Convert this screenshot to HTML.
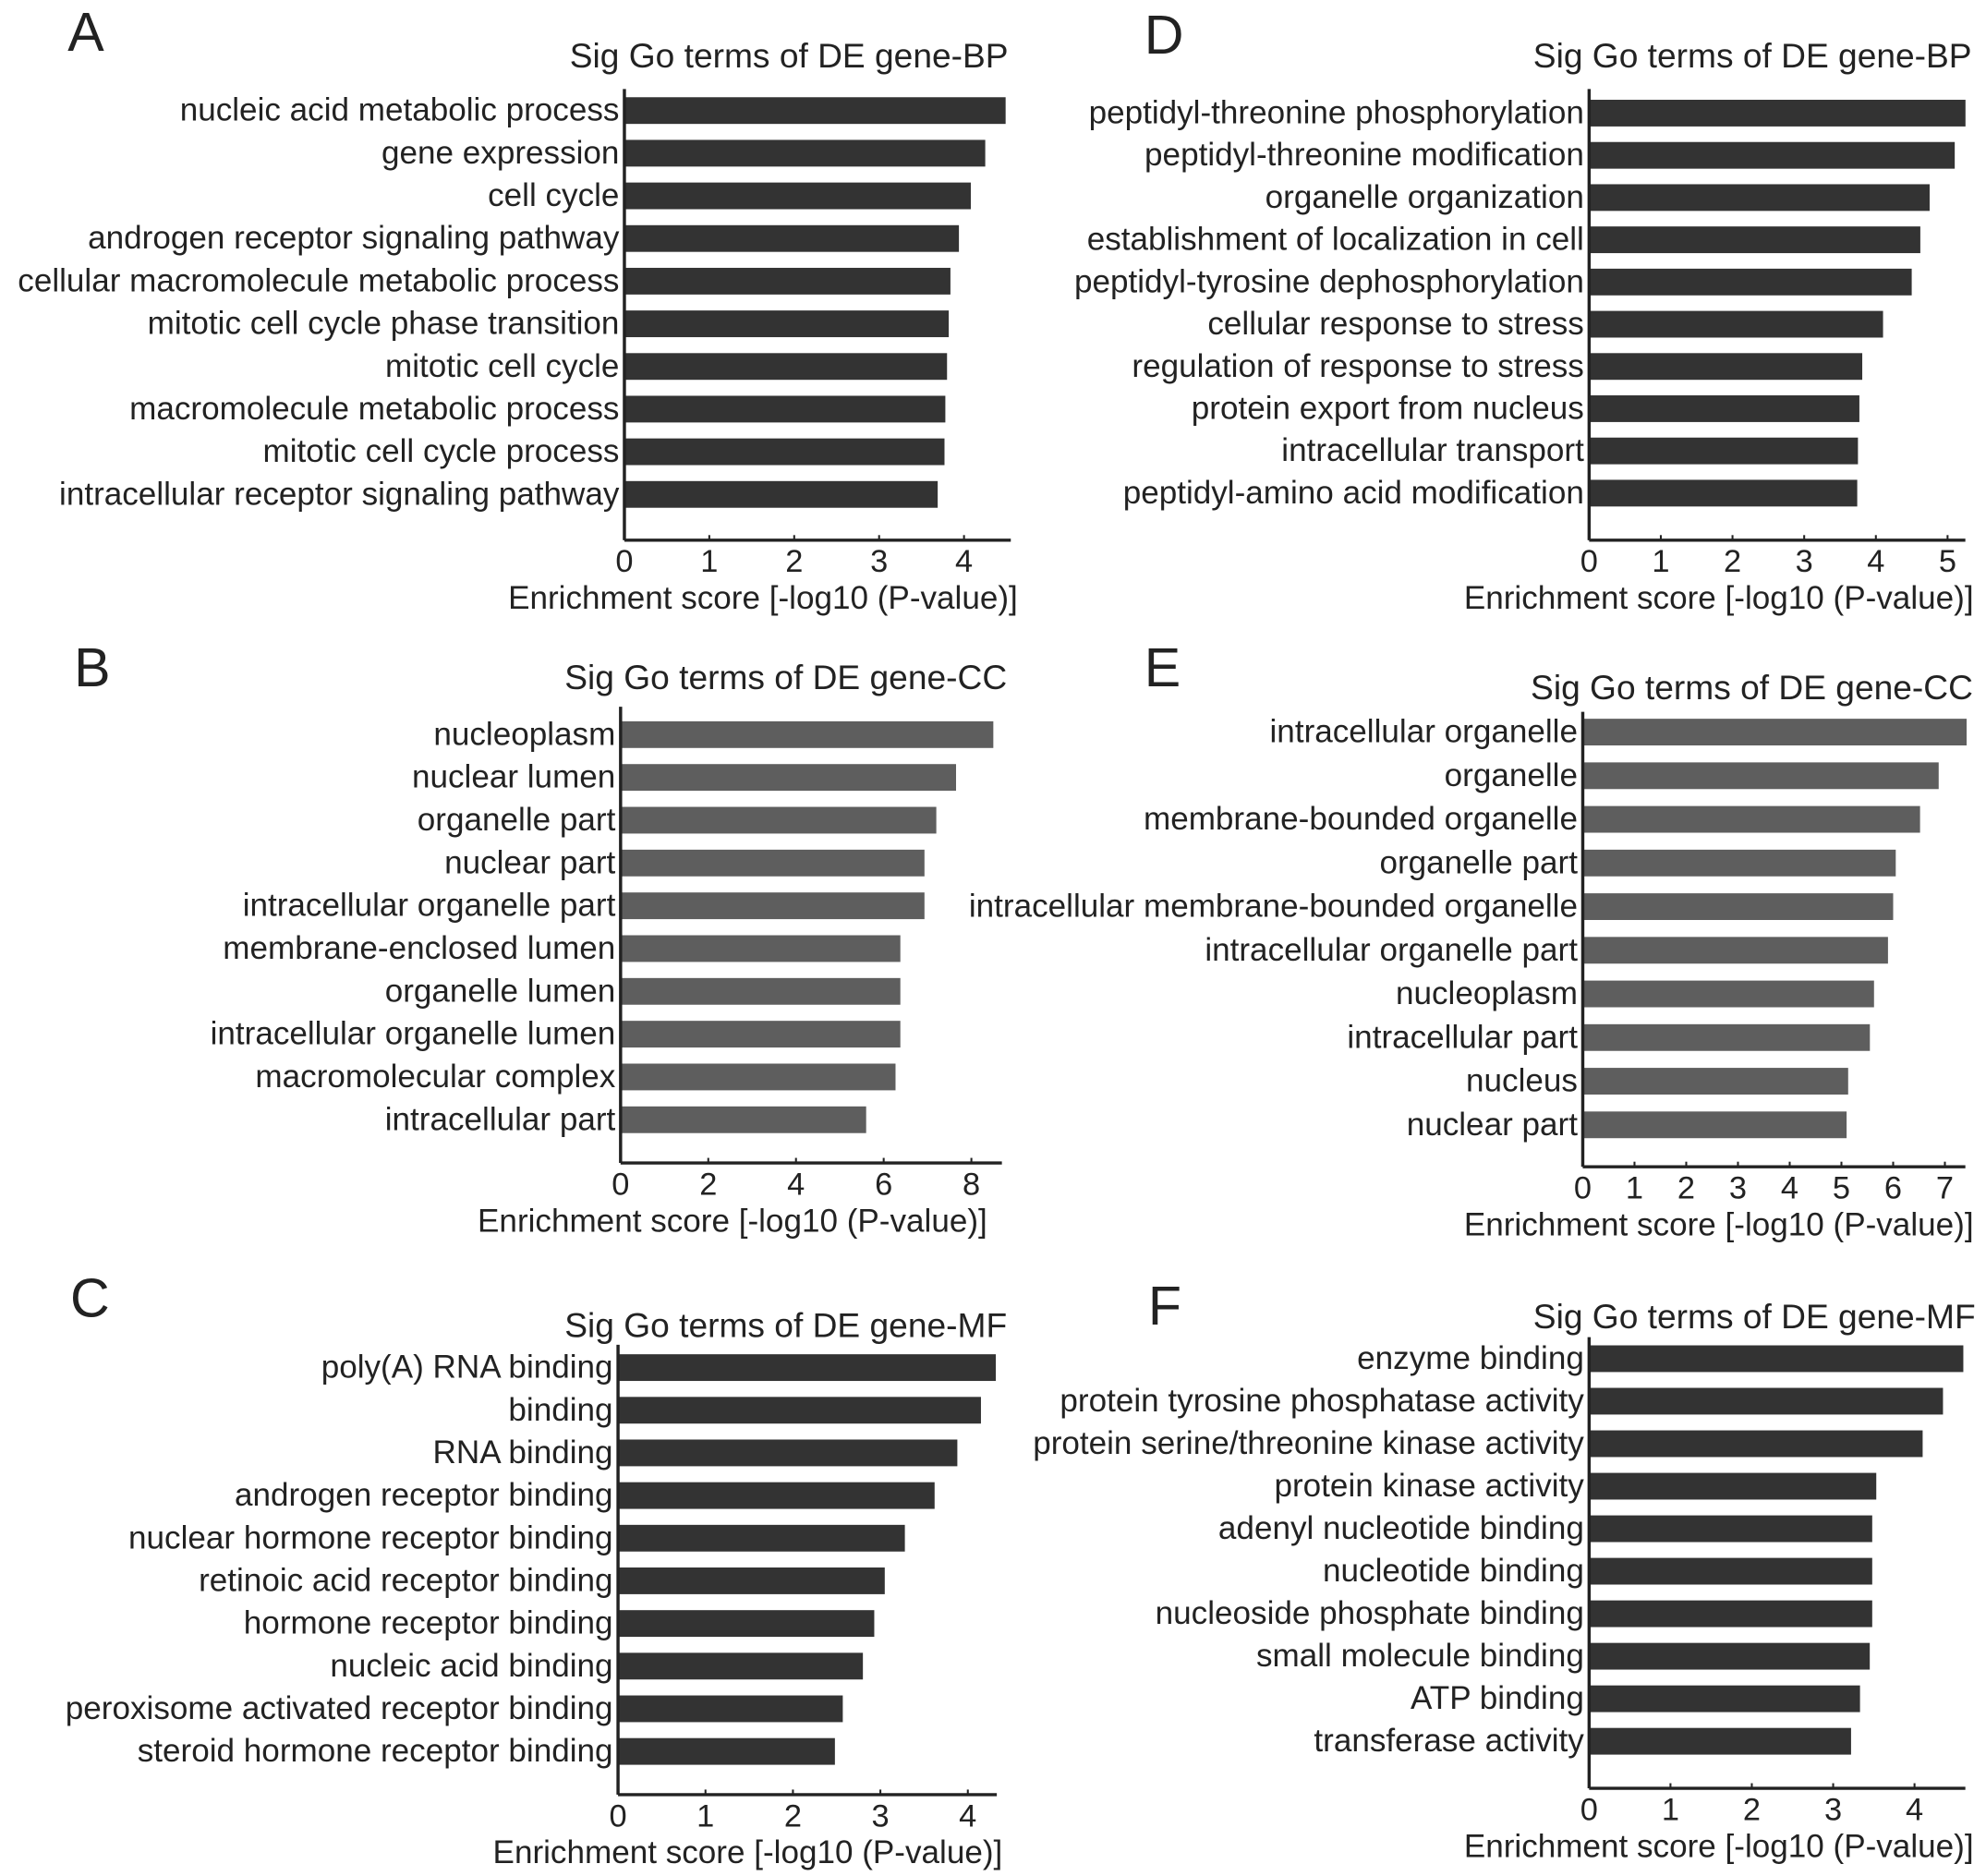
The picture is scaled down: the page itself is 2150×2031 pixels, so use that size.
<!DOCTYPE html>
<html><head><meta charset="utf-8"><style>
html,body{margin:0;padding:0;background:#fff}
svg{display:block}
text{font-family:"Liberation Sans",Arial,sans-serif;fill:#222}
</style></head><body>
<svg id="fig" width="2150" height="2031" viewBox="0 0 1562 1476" xmlns="http://www.w3.org/2000/svg"></svg>
<script>
// Panel A (BP)
const catsA = ["nucleic acid metabolic process","gene expression","cell cycle","androgen receptor signaling pathway","cellular macromolecule metabolic process","mitotic cell cycle phase transition","mitotic cell cycle","macromolecule metabolic process","mitotic cell cycle process","intracellular receptor signaling pathway"];
const valsA = [4.49,4.25,4.08,3.94,3.84,3.82,3.8,3.78,3.77,3.69];
const ticksA = [0,1,2,3,4];
// Panel B (CC)
const catsB = ["nucleoplasm","nuclear lumen","organelle part","nuclear part","intracellular organelle part","membrane-enclosed lumen","organelle lumen","intracellular organelle lumen","macromolecular complex","intracellular part"];
const valsB = [8.5,7.65,7.2,6.93,6.93,6.38,6.38,6.38,6.27,5.6];
const ticksB = [0,2,4,6,8];
// Panel C (MF)
const catsC = ["poly(A) RNA binding","binding","RNA binding","androgen receptor binding","nuclear hormone receptor binding","retinoic acid receptor binding","hormone receptor binding","nucleic acid binding","peroxisome activated receptor binding","steroid hormone receptor binding"];
const valsC = [4.32,4.15,3.88,3.62,3.28,3.05,2.93,2.8,2.57,2.48];
const ticksC = [0,1,2,3,4];
// Panel D (BP)
const catsD = ["peptidyl-threonine phosphorylation","peptidyl-threonine modification","organelle organization","establishment of localization in cell","peptidyl-tyrosine dephosphorylation","cellular response to stress","regulation of response to stress","protein export from nucleus","intracellular transport","peptidyl-amino acid modification"];
const valsD = [5.25,5.1,4.75,4.62,4.5,4.1,3.81,3.77,3.75,3.74];
const ticksD = [0,1,2,3,4,5];
// Panel E (CC)
const catsE = ["intracellular organelle","organelle","membrane-bounded organelle","organelle part","intracellular membrane-bounded organelle","intracellular organelle part","nucleoplasm","intracellular part","nucleus","nuclear part"];
const valsE = [7.42,6.88,6.52,6.05,6.0,5.9,5.63,5.55,5.13,5.1];
const ticksE = [0,1,2,3,4,5,6,7];
// Panel F (MF)
const catsF = ["enzyme binding","protein tyrosine phosphatase activity","protein serine/threonine kinase activity","protein kinase activity","adenyl nucleotide binding","nucleotide binding","nucleoside phosphate binding","small molecule binding","ATP binding","transferase activity"];
const valsF = [4.6,4.35,4.1,3.53,3.48,3.48,3.48,3.45,3.33,3.22];
const ticksF = [0,1,2,3,4];

const NS="http://www.w3.org/2000/svg";
const svg=document.getElementById('fig');
function mk(tag,attrs,parent,txt){const e=document.createElementNS(NS,tag);for(const k in attrs)e.setAttribute(k,attrs[k]);if(txt!==undefined)e.textContent=txt;(parent||svg).appendChild(e);return e;}

function panel(cfg,cats,vals,ticks){
  const g=mk('g',{});
  
  
  const L=mk('text',{x:cfg.lx,y:cfg.ly,'font-size':43},g,cfg.letter);
  
  
  const T=mk('text',{x:cfg.tx,y:cfg.ty,'font-size':27},g,cfg.title);
  
  
  const xs=v=>cfg.x0+v*cfg.ppu;
  const step=(cfg.ylast-cfg.yfirst)/(cats.length-1);
  const ys=i=>cfg.yfirst+i*step;
  cats.forEach((c,i)=>{
    const r=mk('rect',{x:xs(0),y:ys(i)-10.5,width:xs(vals[i])-xs(0),height:21,fill:cfg.color},g);
    
    
    const t=mk('text',{x:xs(0)-4,y:ys(i)+8,'font-size':25.5,'text-anchor':'end'},g,c);
    
    
  });
  const ya=mk('line',{x1:xs(0),y1:cfg.atop,x2:xs(0),y2:cfg.ay,stroke:'#222','stroke-width':2.5},g);
  
  
  const xa=mk('line',{x1:xs(0),y1:cfg.ay,x2:cfg.aend,y2:cfg.ay,stroke:'#222','stroke-width':2.5},g);
  
  
  ticks.forEach(v=>{
    mk('line',{x1:xs(v),y1:cfg.ay,x2:xs(v),y2:cfg.ay-4,stroke:'#222','stroke-width':1.5},g);
    const t=mk('text',{x:xs(v),y:cfg.ay+25,'font-size':25,'text-anchor':'middle'},g,String(v));
    
    
  });
  const at=mk('text',{x:cfg.xtx,y:cfg.ay+54,'font-size':25.5,'text-anchor':'middle','xml:space':'preserve'},g,'Enrichment score  [-log10 (P-value)]');
  
  
}
const dark='#333333', gray='#5e5e5e';
panel({letter:'A',lx:53,ly:40,title:'Sig Go terms of DE gene-BP',tx:448,ty:53,x0:491,ppu:66.8,yfirst:87,ylast:389,atop:70,ay:425,aend:795,xtx:600,color:dark},catsA,valsA,ticksA);
panel({letter:'B',lx:58,ly:540,title:'Sig Go terms of DE gene-CC',tx:444,ty:542,x0:488,ppu:34.5,yfirst:578,ylast:881,atop:556,ay:915,aend:788,xtx:576,color:gray},catsB,valsB,ticksB);
panel({letter:'C',lx:55,ly:1036,title:'Sig Go terms of DE gene-MF',tx:444,ty:1052,x0:486,ppu:68.8,yfirst:1076,ylast:1378,atop:1058,ay:1412,aend:784,xtx:588,color:dark},catsC,valsC,ticksC);
panel({letter:'D',lx:900,ly:42,title:'Sig Go terms of DE gene-BP',tx:1206,ty:53,x0:1250,ppu:56.4,yfirst:89,ylast:388,atop:70,ay:425,aend:1546,xtx:1352,color:dark},catsD,valsD,ticksD);
panel({letter:'E',lx:900,ly:540,title:'Sig Go terms of DE gene-CC',tx:1204,ty:550,x0:1245,ppu:40.7,yfirst:576,ylast:885,atop:560,ay:918,aend:1546,xtx:1352,color:gray},catsE,valsE,ticksE);
panel({letter:'F',lx:903,ly:1042,title:'Sig Go terms of DE gene-MF',tx:1206,ty:1045,x0:1250,ppu:64,yfirst:1069,ylast:1370,atop:1052,ay:1407,aend:1546,xtx:1352,color:dark},catsF,valsF,ticksF);
</script>
</body></html>
